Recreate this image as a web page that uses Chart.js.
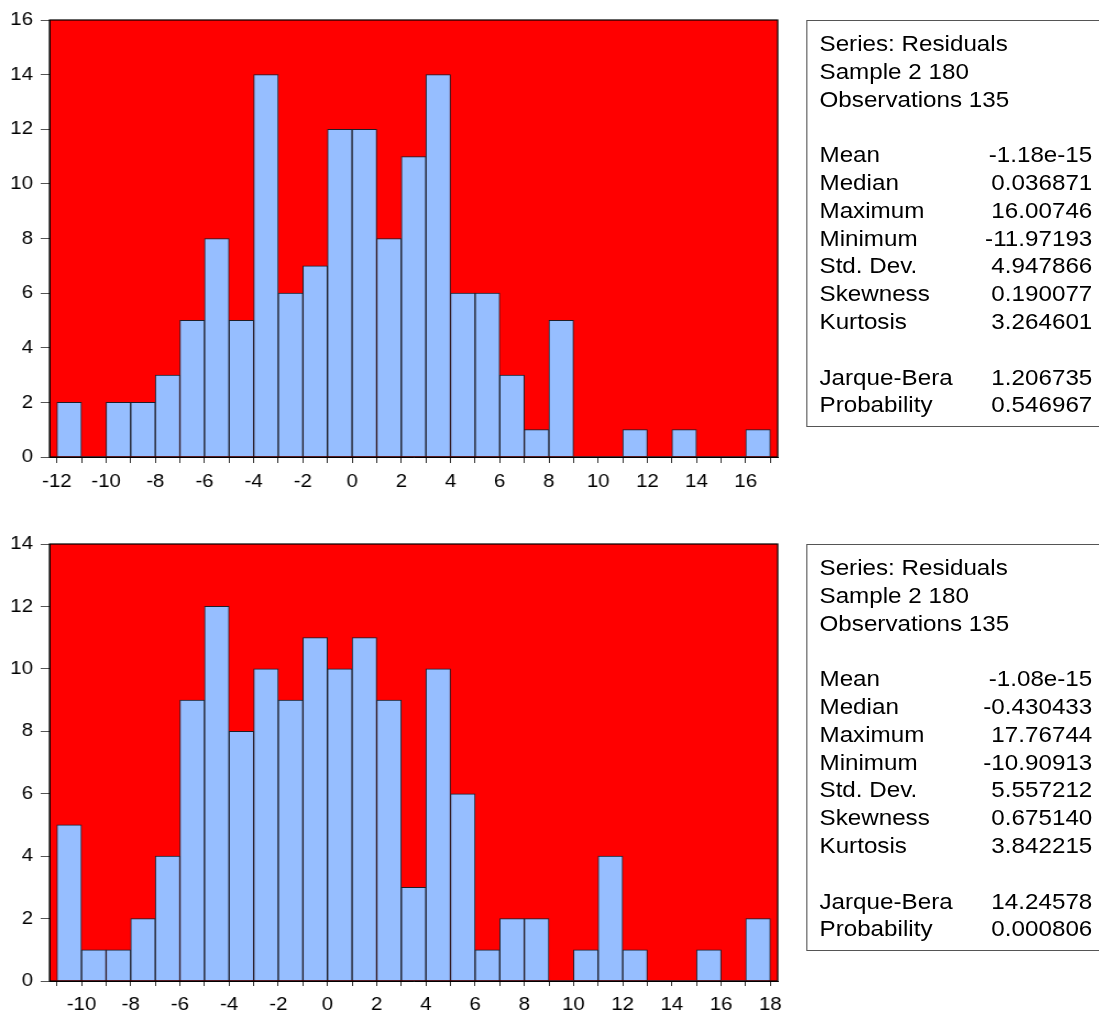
<!DOCTYPE html>
<html>
<head>
<meta charset="utf-8">
<script src="https://cdn.jsdelivr.net/npm/chart.js@4.4.1/dist/chart.umd.min.js"></script>
<style>
html, body { margin:0; padding:0; background:#fff; overflow:hidden; width:1099px; height:1012px; }
/* the whole reference is stretched ~1.1x horizontally, so draw narrow and stretch */
#page { position:absolute; left:0; top:0; width:999px; height:1012px; transform:scaleX(1.1); transform-origin:0 0; }
.panel { position:absolute; left:0; width:999px; height:524px; }
.panel canvas { position:absolute; left:0; top:0; }
.stats { position:absolute; left:733px; top:20px; width:300px; height:407px; box-sizing:border-box;
  border:1px solid #555; padding:9px 0 0 11px;
  font-family:"Liberation Sans", Arial, sans-serif; font-size:22px; line-height:27.8px; color:#000; }
.row { position:relative; width:248px; height:27.8px; white-space:nowrap; }
.row .v { position:absolute; right:0; top:0; }
</style>
</head>
<body>
<div id="page">
  <div class="panel" style="top:0px">
    <canvas id="chartTop" width="730" height="524"></canvas>
    <div class="stats" id="statsTop"></div>
  </div>
  <div class="panel" style="top:524px">
    <canvas id="chartBottom" width="730" height="524"></canvas>
    <div class="stats" id="statsBottom"></div>
  </div>
</div>
<script>
// ---- top histogram (residuals, first model)
var topBinLeft = [-12, -11, -10, -9, -8, -7, -6, -5, -4, -3, -2, -1, 0, 1, 2, 3, 4, 5, 6, 7, 8, 9, 10, 11, 12, 13, 14, 15, 16];
var topCounts  = [2, 0, 2, 2, 3, 5, 8, 5, 14, 6, 7, 12, 12, 8, 11, 14, 6, 6, 3, 1, 5, 0, 0, 1, 0, 1, 0, 0, 1];
var topXTicks  = [-12, -11, -10, -9, -8, -7, -6, -5, -4, -3, -2, -1, 0, 1, 2, 3, 4, 5, 6, 7, 8, 9, 10, 11, 12, 13, 14, 15, 16, 17];
var topXLabels = [-12, -10, -8, -6, -4, -2, 0, 2, 4, 6, 8, 10, 12, 14, 16];
var topYMax = 16;

// ---- bottom histogram (residuals, second model)
var bottomBinLeft = [-11, -10, -9, -8, -7, -6, -5, -4, -3, -2, -1, 0, 1, 2, 3, 4, 5, 6, 7, 8, 9, 10, 11, 12, 13, 14, 15, 16, 17];
var bottomCounts  = [5, 1, 1, 2, 4, 9, 12, 8, 10, 9, 11, 10, 11, 9, 3, 10, 6, 1, 2, 2, 0, 1, 4, 1, 0, 0, 1, 0, 2];
var bottomXTicks  = [-11, -10, -9, -8, -7, -6, -5, -4, -3, -2, -1, 0, 1, 2, 3, 4, 5, 6, 7, 8, 9, 10, 11, 12, 13, 14, 15, 16, 17, 18];
var bottomXLabels = [-10, -8, -6, -4, -2, 0, 2, 4, 6, 8, 10, 12, 14, 16, 18];
var bottomYMax = 14;

// ---- stats boxes
var headerLines = ['Series: Residuals', 'Sample 2 180', 'Observations 135'];
var statNames = ['Mean', 'Median', 'Maximum', 'Minimum', 'Std. Dev.', 'Skewness', 'Kurtosis'];
var testNames = ['Jarque-Bera', 'Probability'];
var topStatValues = ['-1.18e-15', '0.036871', '16.00746', '-11.97193', '4.947866', '0.190077', '3.264601'];
var topTestValues = ['1.206735', '0.546967'];
var bottomStatValues = ['-1.08e-15', '-0.430433', '17.76744', '-10.90913', '5.557212', '0.675140', '3.842215'];
var bottomTestValues = ['14.24578', '0.000806'];

var RED = '#ff0000';
var BAR = '#96beff';
var FONT = { family: "'Liberation Sans', Arial, sans-serif", size: 18.6 };

var framePlugin = {
    id: 'frame',
    beforeDraw: function(chart) {
        var a = chart.chartArea, c = chart.ctx;
        c.save();
        c.fillStyle = RED;
        c.fillRect(a.left, a.top, a.right - a.left, a.bottom - a.top);
        c.restore();
    },
    afterDatasetsDraw: function(chart) {
        var a = chart.chartArea, c = chart.ctx;
        c.save();
        c.strokeStyle = '#000';
        c.lineWidth = 1.2;
        c.strokeRect(a.left, a.top, a.right - a.left, a.bottom - a.top);
        c.restore();
    }
};

function drawHistogram(id, binLeft, counts, xTicks, xLabels, yMax, tickLen) {
    var ctx = document.getElementById(id).getContext('2d');
    var points = binLeft.map(function(b, i) { return { x: b + 0.5, y: counts[i] }; });
    return new Chart(ctx, {
        type: 'bar',
        data: {
            datasets: [{
                data: points,
                backgroundColor: BAR,
                borderColor: '#1e1e28',
                borderWidth: function(c) { return c.raw && c.raw.y > 0 ? 1 : 0; },
                borderSkipped: 'bottom',
                barPercentage: 1,
                categoryPercentage: 1
            }]
        },
        options: {
            responsive: false,
            animation: false,
            devicePixelRatio: 1,
            // canvas is 730 wide, plot right edge wanted at 707 (778 after the stretch)
            layout: { padding: { top: 20, right: 23, left: 0, bottom: 0 } },
            plugins: { legend: { display: false }, tooltip: { enabled: false } },
            scales: {
                x: {
                    type: 'linear',
                    offset: false,
                    min: binLeft[0] - 0.3,
                    max: binLeft[binLeft.length - 1] + 1.3,
                    afterBuildTicks: function(s) { s.ticks = xTicks.map(function(v) { return { value: v }; }); },
                    afterFit: function(s) { s.height = 67; },
                    grid: { offset: false, drawOnChartArea: false, drawTicks: true, tickLength: tickLen, color: '#333' },
                    border: { display: true, color: '#000', width: 1 },
                    ticks: {
                        autoSkip: false, maxRotation: 0, minRotation: 0, padding: 8,
                        color: '#000', font: FONT,
                        callback: function(v) { return xLabels.indexOf(v) >= 0 ? String(v) : ''; }
                    }
                },
                y: {
                    min: 0,
                    max: yMax,
                    afterFit: function(s) { s.width = 45; },
                    grid: { drawOnChartArea: false, drawTicks: true, tickLength: 8, color: '#555' },
                    border: { display: true, color: '#000', width: 1 },
                    ticks: {
                        stepSize: 2, padding: 7, color: '#000', font: FONT,
                        callback: function(v) { return String(v); }
                    }
                }
            }
        },
        plugins: [framePlugin]
    });
}

function fillStats(id, statValues, testValues) {
    var box = document.getElementById(id);
    var html = '';
    headerLines.forEach(function(t) { html += '<div class="row">' + t + '</div>'; });
    html += '<div class="row"></div>';
    statNames.forEach(function(n, i) {
        html += '<div class="row">' + n + '<span class="v">' + statValues[i] + '</span></div>';
    });
    html += '<div class="row"></div>';
    testNames.forEach(function(n, i) {
        html += '<div class="row">' + n + '<span class="v">' + testValues[i] + '</span></div>';
    });
    box.innerHTML = html;
}

drawHistogram('chartTop', topBinLeft, topCounts, topXTicks, topXLabels, topYMax, 6);
drawHistogram('chartBottom', bottomBinLeft, bottomCounts, bottomXTicks, bottomXLabels, bottomYMax, 5);
fillStats('statsTop', topStatValues, topTestValues);
fillStats('statsBottom', bottomStatValues, bottomTestValues);
</script>
</body>
</html>
